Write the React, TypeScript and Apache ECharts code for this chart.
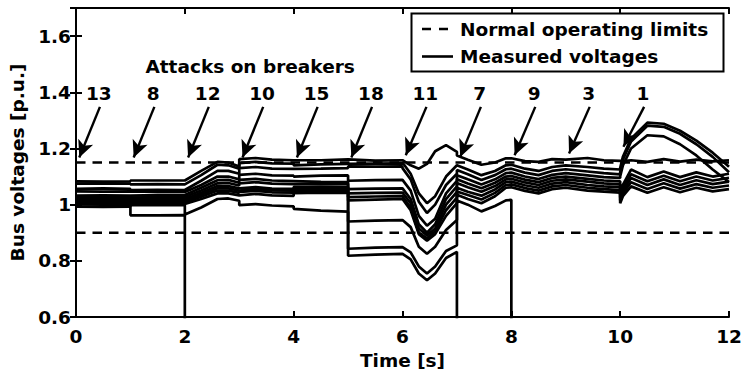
import React, { useEffect, useRef } from 'react';
import * as echarts from 'echarts';

// ---- data -------------------------------------------------------------
// common time grid (a repeated time marks a switching instant: before / after)
const times = [
  0, 0.5, 1,
  1, 1.5, 2,
  2, 2.3, 2.6, 2.8, 3,
  3, 3.3, 3.6, 4,
  4, 4.5, 5,
  5, 5.5, 6,
  6, 6.15, 6.3, 6.45, 6.6, 6.8, 7,
  7, 7.2, 7.45, 7.7, 7.9, 8,
  8, 8.25, 8.5, 8.75, 9,
  9, 9.4, 9.7, 10,
  10, 10.05, 10.2, 10.5, 10.8, 11.1, 11.4, 11.7, 12,
];

const busA = [
  1.083, 1.082, 1.083,
  1.086, 1.086, 1.086,
  1.088, 1.12, 1.152, 1.15, 1.136,
  1.162, 1.166, 1.16, 1.158,
  1.16, 1.158, 1.161,
  1.16, 1.157, 1.158,
  1.158, 1.14, 1.128, 1.145, 1.19, 1.212, 1.188,
  1.175, 1.16, 1.142, 1.15, 1.165, 1.165,
  1.165, 1.155, 1.152, 1.162, 1.16,
  1.16, 1.166, 1.158, 1.156,
  1.156, 1.155, 1.158, 1.152, 1.162, 1.153, 1.16, 1.154, 1.158,
];
const busB = [
  1.075, 1.076, 1.075,
  1.072, 1.073, 1.072,
  1.074, 1.105, 1.142, 1.14, 1.128,
  1.148, 1.152, 1.147, 1.146,
  1.14, 1.143, 1.145,
  1.147, 1.146, 1.147,
  1.15, 1.11, 1.04, 1.005, 1.03, 1.1, 1.14,
  1.14, 1.125, 1.105, 1.12, 1.14, 1.142,
  1.14, 1.128, 1.12, 1.134, 1.14,
  1.14, 1.134, 1.128, 1.125,
  1.13, 1.17, 1.235, 1.292, 1.288, 1.263, 1.228, 1.185, 1.135,
];
const busC = [
  1.056, 1.058, 1.056,
  1.052, 1.053, 1.052,
  1.054, 1.085, 1.12, 1.12, 1.11,
  1.13, 1.134, 1.128, 1.127,
  1.126, 1.128, 1.13,
  1.136, 1.135, 1.136,
  1.13, 1.09, 1.01, 0.97, 1.0, 1.07, 1.11,
  1.123, 1.108, 1.088, 1.105, 1.126, 1.128,
  1.126, 1.114, 1.105, 1.12, 1.126,
  1.125, 1.118, 1.112, 1.108,
  1.115, 1.16, 1.225, 1.281, 1.277, 1.252, 1.215, 1.17, 1.115,
];
const busD = [
  1.047, 1.046, 1.047,
  1.045, 1.045, 1.045,
  1.047, 1.07, 1.1, 1.1, 1.09,
  1.106, 1.11, 1.104, 1.103,
  1.1, 1.103, 1.104,
  1.085, 1.087, 1.088,
  1.09, 1.05, 0.96, 0.925, 0.95, 1.04, 1.085,
  1.105, 1.09, 1.072, 1.09, 1.112, 1.114,
  1.113, 1.1, 1.091, 1.106, 1.112,
  1.112, 1.104, 1.098, 1.095,
  1.1, 1.14, 1.2, 1.247, 1.243, 1.215, 1.175, 1.125, 1.08,
];
const busE = [
  1.032, 1.033, 1.032,
  1.034, 1.034, 1.034,
  1.036, 1.06, 1.087, 1.088, 1.078,
  1.088, 1.092, 1.086, 1.084,
  1.082, 1.081, 1.08,
  1.055, 1.057, 1.058,
  1.06, 1.02, 0.93, 0.9, 0.93, 1.02, 1.065,
  1.09, 1.075, 1.058, 1.078, 1.1, 1.102,
  1.101, 1.089, 1.08, 1.095, 1.1,
  1.1, 1.092, 1.086, 1.083,
  1.045, 1.07, 1.125, 1.098, 1.118, 1.098, 1.115, 1.1, 1.11,
];
const busF = [
  1.025, 1.026, 1.025,
  1.027, 1.027, 1.027,
  1.029, 1.05, 1.076, 1.077, 1.068,
  1.076, 1.08, 1.075, 1.073,
  1.074, 1.075, 1.074,
  1.04, 1.042, 1.043,
  1.045, 1.005, 0.915, 0.89, 0.915, 1.0, 1.045,
  1.077, 1.062, 1.046, 1.066, 1.09, 1.092,
  1.091, 1.079, 1.07, 1.085, 1.09,
  1.09, 1.082, 1.076, 1.072,
  1.035, 1.06, 1.108, 1.083, 1.103, 1.083, 1.1, 1.086, 1.095,
];
const busG = [
  1.019, 1.02, 1.019,
  1.02, 1.02, 1.02,
  1.022, 1.042, 1.066, 1.066, 1.058,
  1.058, 1.062, 1.057, 1.056,
  1.063, 1.064, 1.063,
  1.027, 1.029, 1.03,
  1.03, 0.99, 0.9, 0.88, 0.905, 0.98, 1.025,
  1.06, 1.046, 1.032, 1.054, 1.08, 1.082,
  1.081, 1.069, 1.06, 1.075, 1.08,
  1.08, 1.07, 1.065, 1.062,
  1.025, 1.05, 1.095, 1.07, 1.09, 1.07, 1.087, 1.073, 1.082,
];
const busH = [
  1.013, 1.013, 1.013,
  1.014, 1.014, 1.014,
  1.016, 1.035, 1.058, 1.058, 1.05,
  1.051, 1.056, 1.051, 1.05,
  1.055, 1.056, 1.055,
  1.015, 1.018, 1.02,
  1.02, 0.98, 0.895, 0.872, 0.895, 0.96, 1.005,
  1.047, 1.034, 1.018, 1.042, 1.07, 1.072,
  1.071, 1.059, 1.05, 1.065, 1.07,
  1.07, 1.06, 1.055, 1.052,
  1.015, 1.04, 1.08, 1.056, 1.076, 1.057, 1.073, 1.06, 1.068,
];
const busI = [
  1.007, 1.008, 1.007,
  1.008, 1.008, 1.008,
  1.01, 1.028, 1.05, 1.05, 1.042,
  1.045, 1.049, 1.044, 1.043,
  1.049, 1.05, 1.049,
  0.94, 0.943, 0.945,
  0.945, 0.92, 0.85, 0.825, 0.85, 0.91, 0.945,
  1.035, 1.02, 1.005, 1.03, 1.06, 1.062,
  1.061, 1.049, 1.04, 1.055, 1.06,
  1.06, 1.05, 1.046, 1.043,
  1.005, 1.03, 1.065, 1.042, 1.062, 1.044, 1.06, 1.047, 1.055,
];
// buses that are lost (voltage falls to 0) after a breaker attack
const busJ = [
  1.001, 1.0, 1.0,
  1.002, 1.002, 1.002,
  1.004, 1.02, 1.04, 1.04, 1.033,
  1.034, 1.038, 1.033, 1.031,
  1.041, 1.043, 1.042,
  0.843, 0.847, 0.849,
  0.85, 0.83, 0.78, 0.755, 0.78, 0.835, 0.855,
  1.015, 1.0, 0.976, 0.995, 1.015, 1.017,
  0,
];
const busK = [
  1.011, 1.011, 1.011,
  0.962, 0.962, 0.963,
  0,
];
const busL = [
  0.993, 0.992, 0.993,
  0.998, 0.998, 0.998,
  0.965, 0.99, 1.02, 1.022, 1.014,
  0.998, 1.002, 0.997, 0.994,
  0.985, 0.979, 0.975,
  0.818, 0.822, 0.825,
  0.825, 0.805, 0.755, 0.731, 0.755, 0.81, 0.832,
  0,
];

const limits = [1.15, 0.9];

const attackTimes = [0, 1, 2, 3, 4, 5, 6, 7, 8, 9, 10];
const attackBreakers = ['13', '8', '12', '10', '15', '18', '11', '7', '9', '3', '1'];
const arrowTips = [1.168, 1.168, 1.168, 1.168, 1.168, 1.168, 1.176, 1.17, 1.176, 1.182, 1.206];

const xTicks = { min: 0, max: 12, interval: 2 };
const yTicks = { min: 0.6, max: 1.7, interval: 0.2 };

// ---- styles -----------------------------------------------------------
const FONT = 'DejaVu Sans';
const FS = 18.5;
const txt = { color: '#000', fontFamily: FONT, fontWeight: 'bold' as const, fontSize: FS };

function buildOption() {
  const buses = [busA, busB, busC, busD, busE, busF, busG, busH, busI, busJ, busK, busL];
  const busSeries = buses.map((vals) => ({
    type: 'line',
    name: 'Measured voltages',
    data: vals.map((v, i) => [times[i], v]),
    showSymbol: false,
    symbol: 'none',
    silent: true,
    clip: true,
    lineStyle: { color: '#000', width: 2.7 },
    z: 3,
  }));

  const limitSeries = limits.map((v) => ({
    type: 'line',
    name: 'Normal operating limits',
    data: [[xTicks.min, v], [xTicks.max, v]],
    showSymbol: false,
    symbol: 'none',
    silent: true,
    lineStyle: { color: '#000', width: 2.6, type: [9.5, 7] },
    z: 4,
  }));

  const arrowSeries = {
    type: 'line',
    data: [],
    silent: true,
    z: 6,
    markLine: {
      silent: true,
      symbol: ['none', 'arrow'],
      symbolSize: [12, 17],
      label: { show: false },
      lineStyle: { color: '#000', width: 2.4, type: 'solid' },
      emphasis: { disabled: true },
      data: attackTimes.map((t, i) => [
        { coord: [t + 0.44, 1.348] },
        { coord: [t + 0.06, arrowTips[i]] },
      ]),
    },
  };

  const labelSeries = {
    type: 'scatter',
    silent: true,
    symbolSize: 0,
    itemStyle: { color: '#000', opacity: 1 },
    z: 7,
    label: {
      show: true, position: 'inside', ...txt,
      textBorderWidth: 0, opacity: 1,
      formatter: (p: any) => p.data.text,
    },
    data: [
      ...attackTimes.map((t, i) => ({ value: [t + 0.42, 1.397], text: attackBreakers[i] })),
      { value: [3.2, 1.49], text: 'Attacks on breakers' },
    ],
  };

  const axisLine = { show: true, lineStyle: { color: '#000', width: 2 } };
  const axisTick = { show: true, inside: true, length: 6, lineStyle: { color: '#000', width: 2 } };

  return {
    animation: false,
    backgroundColor: '#fff',
    grid: { left: 76, right: 17, top: 8, bottom: 60, show: false },
    xAxis: [
      {
        type: 'value', ...xTicks, position: 'bottom',
        name: 'Time [s]', nameLocation: 'middle', nameGap: 31, nameTextStyle: txt,
        axisLine, axisTick,
        axisLabel: { ...txt, margin: 10 },
        splitLine: { show: false },
      },
      {
        type: 'value', ...xTicks, position: 'top',
        axisLine, axisTick, axisLabel: { show: false }, splitLine: { show: false },
      },
    ],
    yAxis: [
      {
        type: 'value', ...yTicks, position: 'left',
        name: 'Bus voltages [p.u.]', nameLocation: 'middle', nameGap: 44, nameRotate: 90,
        nameTextStyle: txt,
        axisLine, axisTick,
        axisLabel: { ...txt, margin: 5, showMaxLabel: false },
        splitLine: { show: false },
      },
      {
        type: 'value', ...yTicks, position: 'right',
        axisLine, axisTick, axisLabel: { show: false }, splitLine: { show: false },
      },
    ],
    series: [...busSeries, ...limitSeries, arrowSeries, labelSeries],
    graphic: [
      {
        type: 'rect', z: 100,
        shape: { x: 411.5, y: 13.5, width: 312, height: 58 },
        style: { fill: '#fff', stroke: '#000', lineWidth: 2 },
      },
      {
        type: 'line', z: 101,
        shape: { x1: 422, y1: 29, x2: 449, y2: 29 },
        style: { stroke: '#000', lineWidth: 2.6, lineDash: [9, 8] },
      },
      {
        type: 'line', z: 101,
        shape: { x1: 422, y1: 56.5, x2: 453, y2: 56.5 },
        style: { stroke: '#000', lineWidth: 2.6 },
      },
      {
        type: 'text', z: 101, x: 460, y: 29,
        style: { text: 'Normal operating limits', fill: '#000', fontFamily: FONT, fontWeight: 'bold', fontSize: FS, verticalAlign: 'middle' },
      },
      {
        type: 'text', z: 101, x: 460, y: 56.5,
        style: { text: 'Measured voltages', fill: '#000', fontFamily: FONT, fontWeight: 'bold', fontSize: FS, verticalAlign: 'middle' },
      },
    ],
  };
}

export default function App() {
  const ref = useRef<HTMLDivElement>(null);
  useEffect(() => {
    if (!ref.current) return;
    const chart = echarts.init(ref.current, null, { renderer: 'svg' });
    chart.setOption(buildOption() as any);
    return () => chart.dispose();
  }, []);
  return (
    <div
      ref={ref}
      style={{ position: 'absolute', left: 0, top: 0, width: 746, height: 377, background: '#fff' }}
    />
  );
}
